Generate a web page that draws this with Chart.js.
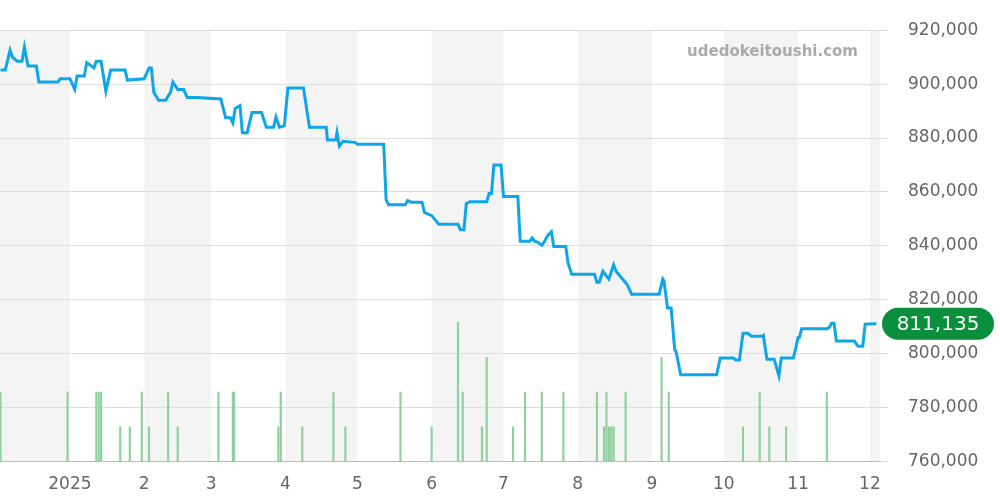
<!DOCTYPE html>
<html>
<head>
<meta charset="utf-8">
<script src="https://cdn.jsdelivr.net/npm/chart.js@4"></script>
<style>
  body { margin: 0; background: #fff; }
</style>
</head>
<body>
<canvas id="c" width="1000" height="500"></canvas>
<script>
// days counted from 2024-12-02
const priceDays = [1,3,5,6,8,10,11,12.5,16,17,25,26,30,32,33,36,37,40,41,43,45,47,53,54,61,63,64,65,67,70,72,73,75,77.5,79,83,93,95,97,98,99,101,102,104,106,110,112,115,116,117.5,119.5,121,127.5,130,137,137.5,141,141.5,142.5,144,149,150,161,162,163,170,171,172.5,177,178,180,181,184,192,193,194.5,195.5,197,204,205,206,207,210,211,217,218,222,223,224,225,227,228,229.5,231,232,237,238,239.5,249,250,251,252.5,254,255,257,258,262.5,263,264.5,276,277.5,278,279.5,281,282.5,283,285,300,301.5,307,308,309.5,311,313,314.5,319,319.5,321,324,326,327,332,333,334,334.5,335.5,346,347,348,349,350,357.5,359,361,362,366.7];
const prices = [905.2,905.2,912.6,910,908.5,908.5,913.7,906.7,906.7,900.8,900.8,902,902,898,903,903,908,906,908.5,908.5,897.3,905.2,905.2,901.5,902,906,906,897,894,894,897,900.8,898,898,895,895,894.5,887.5,887.5,885.6,891,892,882,882,889.5,889.5,884,884,887.8,884,884.5,898.6,898.6,884,884,879.3,879.3,882,877,878.8,878.4,877.7,877.7,857.2,855.3,855.3,856.8,856.2,856.2,852.4,851.6,851.3,848,848,846,846,855.7,856.4,856.4,859.4,859.4,870,870,858.3,858.3,841.7,841.7,843,841.7,841.5,840.3,841.5,843.9,845.3,839.8,839.8,833.5,829.5,829.5,826.5,826.5,830.6,828.8,827.7,833,830.6,825.8,825,822.1,822.1,827.7,827,817,817,801.4,801,792.2,792.2,798.4,798.4,797.7,797.7,807.6,807.6,806.5,806.5,806.8,798,798,791.8,798.4,798.4,802,806,806,809.3,809.3,809.7,811.3,811.3,804.7,804.7,802.8,802.8,811,811.135];
const volDays = [1,29,41,42,43,51,55,60,63,71,75,92,98,98.5,117,118,127,140,145,168,181,192,194,202,204,215,220,227,236,250,253,254,255,256,257,262,277,280,311,318,322,329,346];
const volCounts = [2,2,2,2,2,1,1,2,1,2,1,2,2,2,1,2,1,2,1,2,1,4,2,1,3,1,2,2,2,2,1,2,1,1,1,2,3,2,1,2,1,1,2];
const monthStarts = [30,61,89,120,150,181,211,242,273,303,334,364];
const monthLabels = ['2025','2','3','4','5','6','7','8','9','10','11','12'];
const lastLabel = '811,135';

const bands = {
  id: 'bands',
  beforeDraw(chart) {
    const { ctx, chartArea: a, scales: { x } } = chart;
    const edges = [x.min, ...monthStarts, x.max];
    ctx.save();
    ctx.fillStyle = '#f4f4f4';
    for (let i = 0; i < edges.length - 1; i += 2) {
      const x1 = Math.max(a.left, x.getPixelForValue(edges[i]));
      const x2 = Math.min(a.right, x.getPixelForValue(edges[i + 1]));
      ctx.fillRect(x1, a.top, x2 - x1, a.bottom - a.top);
    }
    ctx.restore();
  },
  afterDraw(chart) {
    const { ctx, chartArea: a, scales: { y } } = chart;
    ctx.save();
    ctx.font = 'bold 15px "DejaVu Sans"';
    ctx.fillStyle = '#aaaaaa';
    ctx.textAlign = 'right';
    ctx.textBaseline = 'middle';
    ctx.fillText('udedokeitoushi.com', a.right - 22, 52);
    // last price badge
    const py = y.getPixelForValue(prices[prices.length - 1] * 1000);
    const bx = a.right + 2, bw = 112, bh = 32;
    ctx.fillStyle = '#0a8f3c';
    ctx.beginPath();
    ctx.roundRect(bx, py - bh / 2, bw, bh, 16);
    ctx.fill();
    ctx.fillStyle = '#fff';
    ctx.font = '20px "DejaVu Sans"';
    ctx.textAlign = 'center';
    ctx.fillText(lastLabel, bx + bw / 2, py + 1);
    ctx.restore();
  }
};

new Chart(document.getElementById('c'), {
  type: 'line',
  plugins: [bands],
  data: {
    datasets: [
      {
        type: 'line',
        data: priceDays.map((d, i) => ({ x: d, y: prices[i] * 1000 })),
        borderColor: '#0ea5e9',
        borderWidth: 3,
        pointRadius: 0,
        tension: 0,
        yAxisID: 'y',
        order: 1,
      },
      {
        type: 'bar',
        data: volDays.map((d, i) => ({ x: d, y: volCounts[i] })),
        backgroundColor: '#8fd19e',
        barThickness: 1.5,
        yAxisID: 'v',
        order: 2,
      },
    ],
  },
  options: {
    responsive: false,
    animation: false,
    layout: { padding: { top: 30, left: 0, right: 0, bottom: 0 } },
    plugins: { legend: { display: false }, tooltip: { enabled: false } },
    scales: {
      x: {
        type: 'linear',
        min: 0.8,
        max: 368.2,
        offset: false,
        afterBuildTicks: (s) => { s.ticks = monthStarts.map(v => ({ value: v })); },
        ticks: {
          autoSkip: false,
          maxRotation: 0,
          padding: 5,
          color: '#666',
          font: { family: 'DejaVu Sans', size: 17 },
          callback: (v) => monthLabels[monthStarts.indexOf(v)],
        },
        grid: { display: false },
        border: { color: '#bbb' },
      },
      y: {
        position: 'right',
        min: 760000,
        max: 920000,
        afterBuildTicks: (s) => {
          const t = [];
          for (let v = 760000; v <= 920000; v += 20000) t.push({ value: v });
          s.ticks = t;
        },
        afterFit: (s) => { s.width = 120; },
        ticks: {
          color: '#666',
          padding: 20,
          font: { family: 'DejaVu Sans', size: 17 },
          callback: (v) => v.toLocaleString('en-US'),
        },
        grid: { color: '#dddddd', tickLength: 8 },
        border: { display: false },
      },
      v: { display: false, min: 0, max: 12.4 },
    },
  },
});
</script>
</body>
</html>
